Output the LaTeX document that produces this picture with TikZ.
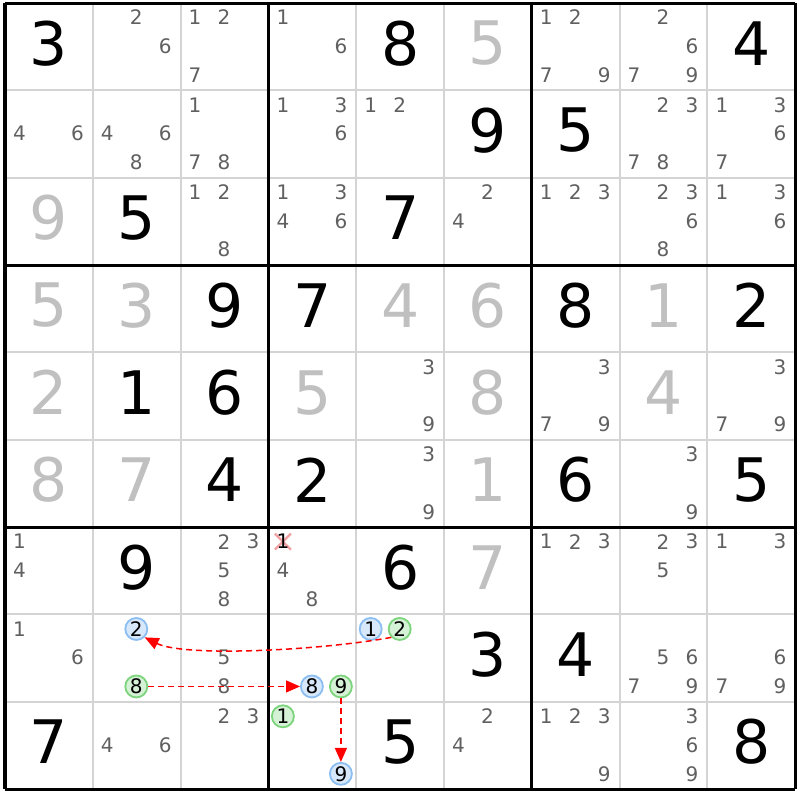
\documentclass[tikz,border=0pt]{standalone}
\usepackage{fontspec}
\setmainfont{DejaVu Sans}
\usetikzlibrary{arrows.meta}
\definecolor{candgray}{HTML}{606060}
\definecolor{givengray}{HTML}{C0C0C0}
\definecolor{thingray}{HTML}{D4D4D4}
\definecolor{bluefill}{HTML}{D6E8FA}
\definecolor{blueline}{HTML}{8CBEF2}
\definecolor{greenfill}{HTML}{D6F2D6}
\definecolor{greenline}{HTML}{7CD47C}
\definecolor{crosspink}{HTML}{F4A0A0}
\newcommand\sdkbig{\fontsize{30}{30}\selectfont}
\newcommand\sdkcand{\fontsize{10}{10}\selectfont}
\def\OX{5}
\def\OY{3}
\def\CX{87.8}
\def\CY{87.35}
\begin{document}
\begin{tikzpicture}[x=0.5pt,y=-0.5pt,
  thinline/.style={draw=thingray,line width=1pt},
  thickline/.style={draw=black,line width=1.5pt},
  bigdigit/.style={font=\sdkbig,inner sep=0pt},
  cand/.style={font=\sdkcand,text=candgray,inner sep=0pt},
  bc/.style={circle,draw=blueline,fill=bluefill,line width=0.9pt,minimum size=11pt,inner sep=0pt,font=\sdkcand,text=black},
  gc/.style={circle,draw=greenline,fill=greenfill,line width=0.9pt,minimum size=11pt,inner sep=0pt,font=\sdkcand,text=black},
  arr/.style={draw=red,dash pattern=on 3pt off 2pt,line width=0.75pt,-{Triangle[length=7pt,width=6pt,fill=red]}},
  crossline/.style={draw=crosspink,line width=1.2pt}]
\path[use as bounding box,fill=white] (0,0) rectangle (800,800);
% thin grid lines
\foreach \i in {1,2,4,5,7,8} {
  \draw[thinline] ({\OX+\i*\CX},\OY) -- ({\OX+\i*\CX},{\OY+9*\CY});
  \draw[thinline] (\OX,{\OY+\i*\CY}) -- ({\OX+9*\CX},{\OY+\i*\CY});
}
% thick box lines
\foreach \i in {0,3,6,9} {
  \draw[thickline] ({\OX+\i*\CX},\OY) -- ({\OX+\i*\CX},{\OY+9*\CY});
  \draw[thickline] (\OX,{\OY+\i*\CY}) -- ({\OX+9*\CX},{\OY+\i*\CY});
}
% big digits
\foreach \r/\c/\d/\col in {
  0/0/3/black,0/4/8/black,0/5/5/givengray,0/8/4/black,
  1/5/9/black,1/6/5/black,
  2/0/9/givengray,2/1/5/black,2/4/7/black,
  3/0/5/givengray,3/1/3/givengray,3/2/9/black,3/3/7/black,3/4/4/givengray,3/5/6/givengray,3/6/8/black,3/7/1/givengray,3/8/2/black,
  4/0/2/givengray,4/1/1/black,4/2/6/black,4/3/5/givengray,4/5/8/givengray,4/7/4/givengray,
  5/0/8/givengray,5/1/7/givengray,5/2/4/black,5/3/2/black,5/5/1/givengray,5/6/6/black,5/8/5/black,
  6/1/9/black,6/4/6/black,6/5/7/givengray,
  7/5/3/black,7/6/4/black,
  8/0/7/black,8/4/5/black,8/8/8/black}
  \node[bigdigit,text=\col] (g-\r-\c) at ({\OX+(\c+0.5)*\CX},{\OY+(\r+0.5)*\CY-3.5}) {\d};
% candidates
\foreach \r/\c/\d in {
  0/1/2,0/1/6, 0/2/1,0/2/2,0/2/7, 0/3/1,0/3/6, 0/6/1,0/6/2,0/6/7,0/6/9, 0/7/2,0/7/6,0/7/7,0/7/9,
  1/0/4,1/0/6, 1/1/4,1/1/6,1/1/8, 1/2/1,1/2/7,1/2/8, 1/3/1,1/3/3,1/3/6, 1/4/1,1/4/2, 1/7/2,1/7/3,1/7/7,1/7/8, 1/8/1,1/8/3,1/8/6,1/8/7,
  2/2/1,2/2/2,2/2/8, 2/3/1,2/3/3,2/3/4,2/3/6, 2/5/2,2/5/4, 2/6/1,2/6/2,2/6/3, 2/7/2,2/7/3,2/7/6,2/7/8, 2/8/1,2/8/3,2/8/6,
  4/4/3,4/4/9, 4/6/3,4/6/7,4/6/9, 4/8/3,4/8/7,4/8/9,
  5/4/3,5/4/9, 5/7/3,5/7/9,
  6/0/1,6/0/4, 6/2/2,6/2/3,6/2/5,6/2/8, 6/3/4,6/3/8, 6/6/1,6/6/2,6/6/3, 6/7/2,6/7/3,6/7/5, 6/8/1,6/8/3,
  7/0/1,7/0/6, 7/2/5,7/2/8, 7/7/5,7/7/6,7/7/7,7/7/9, 7/8/6,7/8/7,7/8/9,
  8/1/4,8/1/6, 8/2/2,8/2/3, 8/5/2,8/5/4, 8/6/1,8/6/2,8/6/3,8/6/9, 8/7/3,8/7/6,8/7/9}
  \node[cand] (k-\r-\c-\d) at ({\OX+\c*\CX+14.5+29*mod(\d-1,3)},{\OY+\r*\CY+14.5+28.75*div(\d-1,3)}) {\d};
% eliminated candidate 1 in r6c3
\coordinate (xc) at ({\OX+3*\CX+14.5},{\OY+6*\CY+14.5});
\draw[crossline] ([shift={(-8,-8)}]xc) -- ([shift={(8,8)}]xc);
\draw[crossline] ([shift={(-8,8)}]xc) -- ([shift={(8,-8)}]xc);
\node[cand,text=black] (k-6-3-1) at (xc) {1};
% circled candidates
\node[bc] (b2) at ({\OX+1*\CX+43.5},{\OY+7*\CY+14.5}) {2};
\node[gc] (g8) at ({\OX+1*\CX+43.5},{\OY+7*\CY+72}) {8};
\node[bc] (b8) at ({\OX+3*\CX+43.5},{\OY+7*\CY+72}) {8};
\node[gc] (g9) at ({\OX+3*\CX+72.5},{\OY+7*\CY+72}) {9};
\node[bc] (b1) at ({\OX+4*\CX+14.5},{\OY+7*\CY+14.5}) {1};
\node[gc] (g2) at ({\OX+4*\CX+43.5},{\OY+7*\CY+14.5}) {2};
\node[gc] (g1) at ({\OX+3*\CX+14.5},{\OY+8*\CY+14.5}) {1};
\node[bc] (b9) at ({\OX+3*\CX+72.5},{\OY+8*\CY+72}) {9};
% links
\draw[arr] (g2.south west) .. controls +(-70,13) and +(40,20) .. (b2.south east);
\draw[arr] (g8.east) -- (b8.west);
\draw[arr] (g9.south) -- (b9.north);
\end{tikzpicture}
\end{document}
